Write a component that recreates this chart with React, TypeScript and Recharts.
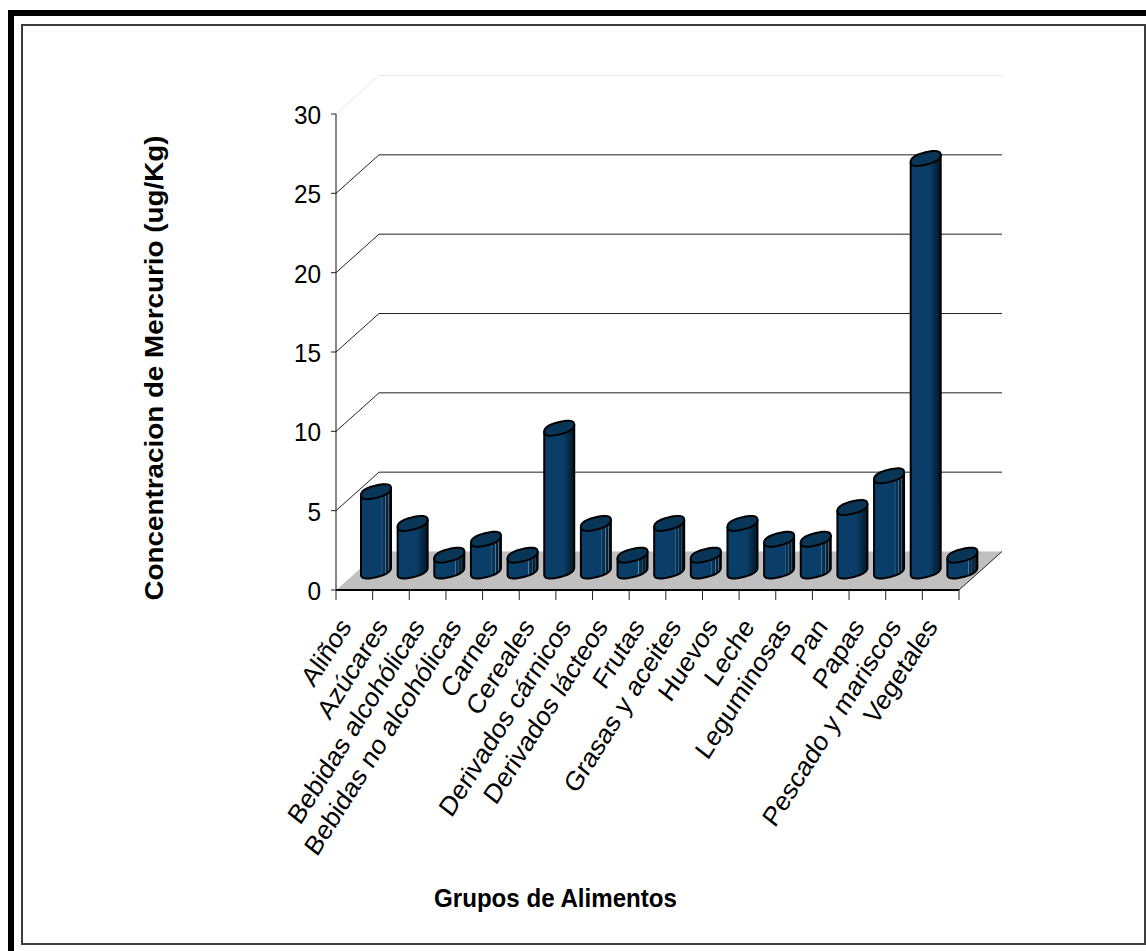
import React from "react";
import { BarChart, Bar, XAxis, YAxis, CartesianGrid } from "recharts";

// Mercury concentration by food group
const categories = [
  "Aliños", "Azúcares", "Bebidas alcohólicas", "Bebidas no alcohólicas", "Carnes", "Cereales",
  "Derivados cárnicos", "Derivados lácteos", "Frutas", "Grasas y aceites", "Huevos", "Leche",
  "Leguminosas", "Pan", "Papas", "Pescado y mariscos", "Vegetales",
];
const concentrations = [5, 3, 1, 2, 1, 9, 3, 1, 3, 1, 3, 2, 2, 4, 6, 26, 1];
const yTicks = [0, 5, 10, 15, 20, 25, 30];
const ribbedGroups = [
  "Aliños", "Bebidas alcohólicas", "Bebidas no alcohólicas", "Carnes", "Derivados cárnicos",
  "Derivados lácteos", "Frutas", "Grasas y aceites", "Leche", "Leguminosas", "Papas", "Vegetales",
];

const rows = categories.map((name, i) => ({ name, value: concentrations[i] }));

const W = 1146;
const H = 951;
const LEFT = 336;
const TOP = 114;
const RIGHT_EDGE = 959;
const BOTTOM = 590;
const DEPTH_X = 43;
const DEPTH_Y = 38.5;
const SANS = "'Liberation Sans', Arial, sans-serif";

// One wall line per y tick: a diagonal on the side wall, then the run along the back wall
function WallLine(props: any) {
  const { x1, y1, x2, index } = props;
  const bx1 = x1 + DEPTH_X;
  const bx2 = x2 + DEPTH_X;
  const by = y1 - DEPTH_Y;
  if (Math.abs(y1 - BOTTOM) < 1) {
    return (
      <g key={`floor-${index}`}>
        <polygon points={`${x1},${y1} ${bx1},${by} ${bx2},${by} ${x2},${y1}`} fill="#c0c0c0" />
        <line x1={x1} y1={y1} x2={bx1} y2={by} stroke="#f0f0f0" strokeWidth={1} />
        <line x1={bx1} y1={by} x2={bx2} y2={by} stroke="#dcdcdc" strokeWidth={1} />
        <line x1={x2} y1={y1} x2={bx2} y2={by} stroke="#222" strokeWidth={1} />
      </g>
    );
  }
  const stroke = Math.abs(y1 - TOP) < 1 ? "#e8e8e8" : "#222";
  return (
    <path
      key={`wall-${index}`}
      d={`M${x1},${y1} L${bx1},${by} L${bx2},${by}`}
      fill="none"
      stroke={stroke}
      strokeWidth={1}
    />
  );
}

// Slanted, slightly squared section of a column, as an outline around (cx, cy)
function sectionPoint(cx: number, cy: number, t: number) {
  const pow = (v: number) => Math.sign(v) * Math.pow(Math.abs(v), 0.82);
  const c = pow(Math.cos(t));
  const s = pow(Math.sin(t));
  return [cx + 15 * c, cy - 3.5 * c + 6.2 * s] as const;
}

function sectionPath(cx: number, cy: number, from: number, to: number, n: number) {
  const pts: string[] = [];
  for (let i = 0; i <= n; i++) {
    const [px, py] = sectionPoint(cx, cy, from + ((to - from) * i) / n);
    pts.push(`${px.toFixed(2)},${py.toFixed(2)}`);
  }
  return pts.join(" L");
}

function Column(props: any) {
  const { x, y, width, height, payload } = props;
  const cx = x + width / 2 + 21.5;
  const topY = y - 19;
  const baseY = y + height - 19;
  const ribbed = ribbedGroups.includes(payload.name);
  const lower = sectionPath(cx, baseY, Math.PI, 0, 24);
  const body = `M${cx - 15},${topY + 3.5} L${lower} L${cx + 15},${topY - 3.5} Z`;
  const cap = `M${sectionPath(cx, topY, 0, Math.PI * 2, 48)} Z`;
  return (
    <g>
      <path d={body} fill={ribbed ? "url(#columnRibbed)" : "url(#columnPlain)"} stroke="#000" strokeWidth={2} strokeLinejoin="round" />
      <path d={cap} fill="#093557" stroke="#000" strokeWidth={2} strokeLinejoin="round" />
    </g>
  );
}

function CategoryTick(props: any) {
  const { x, payload, index } = props;
  const step = (RIGHT_EDGE - LEFT) / categories.length;
  const left = x - step / 2;
  const last = index === categories.length - 1;
  return (
    <g>
      <line x1={left} y1={BOTTOM} x2={left} y2={BOTTOM + 10} stroke="#222" />
      {last && <line x1={left + step} y1={BOTTOM} x2={left + step} y2={BOTTOM + 10} stroke="#222" />}
      <text
        transform={`translate(${x - 2},${BOTTOM + 37}) scale(0.9,1) rotate(-55)`}
        textAnchor="end"
        fontFamily={SANS}
        fontSize={27.5}
        fill="#000"
      >
        {payload.value}
      </text>
    </g>
  );
}

function ValueTick(props: any) {
  const { x, y, payload } = props;
  return (
    <g>
      <line x1={LEFT - 5} y1={y} x2={LEFT} y2={y} stroke="#222" />
      <text
        transform={`translate(${x - 7},${y + 10}) scale(0.92,1)`}
        textAnchor="end"
        fontFamily={SANS}
        fontSize={26.5}
        fill="#000"
      >
        {payload.value}
      </text>
    </g>
  );
}

function ValueTitle() {
  return (
    <text
      transform="translate(163,368) rotate(-90)"
      textAnchor="middle"
      fontFamily={SANS}
      fontWeight={700}
      fontSize={25}
      textLength={465}
      lengthAdjust="spacingAndGlyphs"
      fill="#000"
    >
      Concentracion de Mercurio (ug/Kg)
    </text>
  );
}

function CategoryTitle() {
  return (
    <text
      x={555.5}
      y={907}
      textAnchor="middle"
      fontFamily={SANS}
      fontWeight={700}
      fontSize={26}
      textLength={243}
      lengthAdjust="spacingAndGlyphs"
      fill="#000"
    >
      Grupos de Alimentos
    </text>
  );
}

export default function App() {
  return (
    <div style={{ position: "absolute", left: 0, top: 0, width: W, height: H, background: "#fff", overflow: "hidden" }}>
      <div style={{ position: "absolute", left: 8, top: 10, width: 1138, height: 6, background: "#000" }} />
      <div style={{ position: "absolute", left: 8, top: 10, width: 6, height: 941, background: "#000" }} />
      <div style={{ position: "absolute", left: 21, top: 24, width: 1121, height: 917, border: "2px solid #3c3c3c" }} />
      <div style={{ position: "absolute", left: 0, top: 0 }}>
        <BarChart
          width={W}
          height={H}
          data={rows}
          margin={{ top: TOP, right: W - RIGHT_EDGE, bottom: 0, left: 0 }}
        >
          <defs>
            <linearGradient id="columnPlain" x1="0" y1="0" x2="1" y2="0">
              <stop offset="0" stopColor="#0a3e69" />
              <stop offset="0.62" stopColor="#0a3e69" />
              <stop offset="0.8" stopColor="#072c49" />
              <stop offset="1" stopColor="#041626" />
            </linearGradient>
            <linearGradient id="columnRibbed" x1="0" y1="0" x2="1" y2="0">
              <stop offset="0" stopColor="#0a3e69" />
              <stop offset="0.68" stopColor="#0a3e69" />
              <stop offset="0.7" stopColor="#5f88a6" />
              <stop offset="0.72" stopColor="#0a3759" />
              <stop offset="0.8" stopColor="#072c49" />
              <stop offset="0.82" stopColor="#5a7c95" />
              <stop offset="0.84" stopColor="#072640" />
              <stop offset="0.9" stopColor="#062033" />
              <stop offset="0.92" stopColor="#4d6e85" />
              <stop offset="0.94" stopColor="#051a2a" />
              <stop offset="1" stopColor="#041626" />
            </linearGradient>
          </defs>
          <CartesianGrid horizontal={WallLine as any} vertical={false} />
          <XAxis
            dataKey="name"
            height={H - BOTTOM}
            interval={0}
            axisLine={{ stroke: "#000", strokeWidth: 2 }}
            tickLine={false}
            tick={CategoryTick as any}
            label={<CategoryTitle />}
          />
          <YAxis
            type="number"
            domain={[0, 30]}
            ticks={yTicks}
            width={LEFT}
            axisLine={{ stroke: "#111", strokeWidth: 1 }}
            tickLine={false}
            tick={ValueTick as any}
            label={<ValueTitle />}
          />
          <Bar dataKey="value" barSize={21} shape={Column as any} isAnimationActive={false} />
        </BarChart>
      </div>
    </div>
  );
}
